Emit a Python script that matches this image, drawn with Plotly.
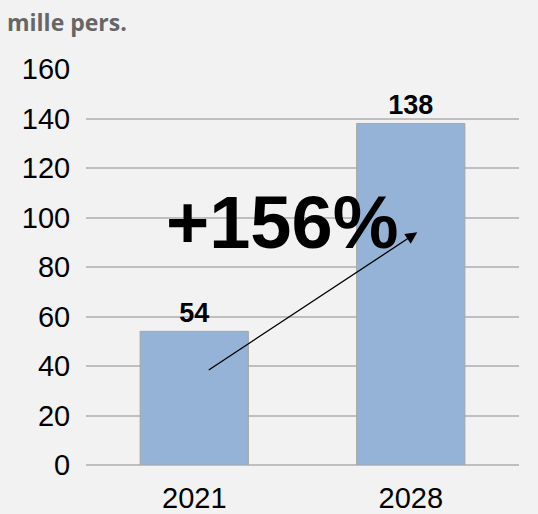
import plotly.graph_objects as go

years = ["2021", "2028"]
values = [54, 138]
y_ticks = [0, 20, 40, 60, 80, 100, 120, 140, 160]
unit_label = "mille pers."
growth_label = "+156%"

fig = go.Figure()
fig.add_trace(go.Bar(
    x=years, y=values,
    marker=dict(color="#95b3d7", line=dict(color="#a6a6a6", width=1)),
    text=[str(v) for v in values],
    textposition="outside",
    textfont=dict(family="Liberation Sans, Arial", size=27, color="#000000"),
    texttemplate="<b>%{text}</b>",
    cliponaxis=False,
    showlegend=False,
))

fig.add_annotation(
    x=1.03, y=94, ax=0.06, ay=38,
    xref="x", yref="y", axref="x", ayref="y",
    text="", showarrow=True, arrowhead=2, arrowsize=1.8, arrowwidth=1.3,
    arrowcolor="#000000",
)
fig.add_annotation(
    x=282, y=222, xref="paper", yref="paper", text="<b>" + growth_label + "</b>",
    showarrow=False,
    font=dict(family="Liberation Sans, Arial", size=74, color="#000000"),
)
fig.add_annotation(
    x=5, y=22, text="<b>" + unit_label + "</b>", showarrow=False,
    xref="paper", yref="paper", xanchor="left", yanchor="middle",
    font=dict(family="Open Sans", size=23, color="#666666"),
)

# convert pixel positions for the paper annotations
W, H = 538, 514
L, R, T, B = 86, 19, 69, 49
pw, ph = W - L - R, H - T - B
for a in fig.layout.annotations:
    if a.xref == "paper":
        a.x = (a.x - L) / pw
        a.y = 1 - (a.y - T) / ph

fig.update_layout(
    width=W, height=H,
    margin=dict(l=L, r=R, t=T, b=B, pad=0, autoexpand=False),
    paper_bgcolor="#f2f2f2", plot_bgcolor="#f2f2f2",
    bargap=0.5,
    xaxis=dict(
        type="category", showgrid=False, showline=False, zeroline=False,
        automargin=False,
        tickfont=dict(family="Liberation Sans, Arial", size=29, color="#000000"),
        ticks="outside", ticklen=7, tickcolor="rgba(0,0,0,0)",
    ),
    yaxis=dict(
        range=[0, 160], tickvals=y_ticks, showgrid=True, gridcolor="#bfbfbf",
        gridwidth=2, zeroline=True, zerolinecolor="#bfbfbf", zerolinewidth=2,
        showline=False, automargin=False,
        tickfont=dict(family="Liberation Sans, Arial", size=29, color="#000000"),
        ticks="outside", ticklen=9, tickcolor="rgba(0,0,0,0)",
    ),
)

fig.write_html(
    "out.html",
    config={"displayModeBar": False},
    post_script="document.body.style.margin='0';document.body.style.background='#f2f2f2';",
)
